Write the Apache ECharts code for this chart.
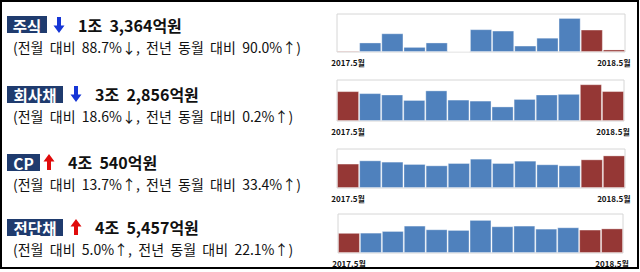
<!DOCTYPE html>
<html><head><meta charset="utf-8">
<script src="https://cdn.jsdelivr.net/npm/echarts@6/dist/echarts.min.js"></script>
<style>html,body{margin:0;padding:0;background:#fff}#c{width:640px;height:272px}</style>
</head><body><div id="c"></div>
<script>
// Categories (months)
const months = ['2017.5월','2017.6월','2017.7월','2017.8월','2017.9월','2017.10월','2017.11월','2017.12월','2018.1월','2018.2월','2018.3월','2018.4월','2018.5월'];
// Series values (억원)
const stock   = [7034, 50200, 98600, 26900, 50200, 3600, 120100, 112900, 34000, 75300, 179200, 118265, 13364];
const corp    = [32790, 30600, 29100, 23100, 33600, 23500, 22400, 16000, 24200, 29100, 29800, 40364, 32856];
const cp      = [30390, 34400, 32800, 29900, 28200, 31100, 36500, 31100, 34000, 29500, 28200, 35655, 40540];
const esb     = [37229, 37600, 40700, 50600, 43800, 42600, 61100, 49400, 50600, 45000, 47500, 43293, 45457];
// Texts
const names     = ['주식', '회사채', 'CP', '전단채'];
const headlines = ['1조  3,364억원', '3조  2,856억원', '4조  540억원', '4조  5,457억원'];
const subtitles = [
  '(전월  대비  88.7%↓,  전년  동월  대비  90.0%↑)',
  '(전월  대비  18.6%↓,  전년  동월  대비  0.2%↑)',
  '(전월  대비  13.7%↑,  전년  동월  대비  33.4%↑)',
  '(전월  대비  5.0%↑,  전년  동월  대비  22.1%↑)'
];
const directions = ['down', 'down', 'up', 'up'];
const yMax = [200000, 45000, 48500, 72000];
const highlight = [0, 11, 12];

const seriesData = [stock, corp, cp, esb];
const grids = [
  {left: 337, top: 14, width: 288, height: 38},
  {left: 337, top: 80, width: 287, height: 41},
  {left: 337, top: 149, width: 288, height: 39},
  {left: 338, top: 214, width: 285, height: 39}
];
const rowLayout = [
  {boxW: 40, boxY: 16, cy: 25, arrowX: 59, headX: 78, subY: 47},
  {boxW: 56, boxY: 86, cy: 94, arrowX: 76, headX: 95, subY: 116},
  {boxW: 33, boxY: 154, cy: 162, arrowX: 49, headX: 68, subY: 184},
  {boxW: 56, boxY: 219, cy: 227, arrowX: 76, headX: 95, subY: 249}
];
const FONT = '"Noto Sans CJK KR", "Noto Sans", sans-serif';
const BLUE = '#4f81bd', RED = '#953735';

const graphic = [{
  type: 'rect', shape: {x: 1, y: 1, width: 637, height: 267},
  style: {fill: 'none', stroke: '#000', lineWidth: 2}, z: 10
}];
function arrowPoints(cx, cy, dir) {
  const h = 16, hw = 5.5, sw = 2, headH = 7.5;
  const t = cy - h / 2, b = cy + h / 2;
  if (dir === 'down') {
    return [[cx - sw, t], [cx + sw, t], [cx + sw, b - headH], [cx + hw, b - headH], [cx, b], [cx - hw, b - headH], [cx - sw, b - headH]];
  }
  return [[cx - sw, b], [cx + sw, b], [cx + sw, t + headH], [cx + hw, t + headH], [cx, t], [cx - hw, t + headH], [cx - sw, t + headH]];
}
rowLayout.forEach((r, i) => {
  graphic.push({type: 'rect', shape: {x: 7, y: r.boxY, width: r.boxW, height: 17}, style: {fill: '#1f3b6e'}});
  graphic.push({type: 'text', x: 7 + r.boxW / 2, y: r.cy + 0.5, style: {text: names[i], fill: '#fff', font: 'bold 15.5px ' + FONT, textAlign: 'center', textVerticalAlign: 'middle'}});
  graphic.push({type: 'polygon', shape: {points: arrowPoints(r.arrowX, r.cy, directions[i])}, style: {fill: directions[i] === 'down' ? '#1636d6' : '#e00b0b'}});
  graphic.push({type: 'text', x: r.headX, y: r.cy, style: {text: headlines[i], fill: '#111', font: 'bold 16px ' + FONT, textAlign: 'left', textVerticalAlign: 'middle'}});
  graphic.push({type: 'text', x: 13, y: r.subY, style: {text: subtitles[i], fill: '#111', font: '14px ' + FONT, textAlign: 'left', textVerticalAlign: 'middle'}});
});

const option = {
  animation: false,
  grid: grids.map(g => Object.assign({show: true, borderColor: '#d6d6d6', borderWidth: 1, backgroundColor: 'transparent'}, g)),
  xAxis: grids.map((g, i) => ({
    type: 'category', gridIndex: i, data: months,
    axisLine: {show: false}, axisTick: {show: false},
    axisLabel: {
      interval: (idx) => idx === 0 || idx === months.length - 1,
      fontSize: 8, fontWeight: 'bold', color: '#111', margin: 6, fontFamily: FONT
    }
  })),
  yAxis: grids.map((g, i) => ({
    type: 'value', gridIndex: i, min: 0, max: yMax[i],
    show: false, splitLine: {show: false}
  })),
  series: seriesData.map((d, i) => ({
    type: 'bar', xAxisIndex: i, yAxisIndex: i, barCategoryGap: '0%',
    data: d.map((v, k) => ({value: v, itemStyle: {color: highlight.includes(k) ? RED : BLUE}})),
    itemStyle: {borderColor: 'rgba(255,255,255,0.35)', borderWidth: 1}
  })),
  graphic: graphic
};
const chart = echarts.init(document.getElementById('c'), null, {renderer: 'svg'});
chart.setOption(option);
</script></body></html>
